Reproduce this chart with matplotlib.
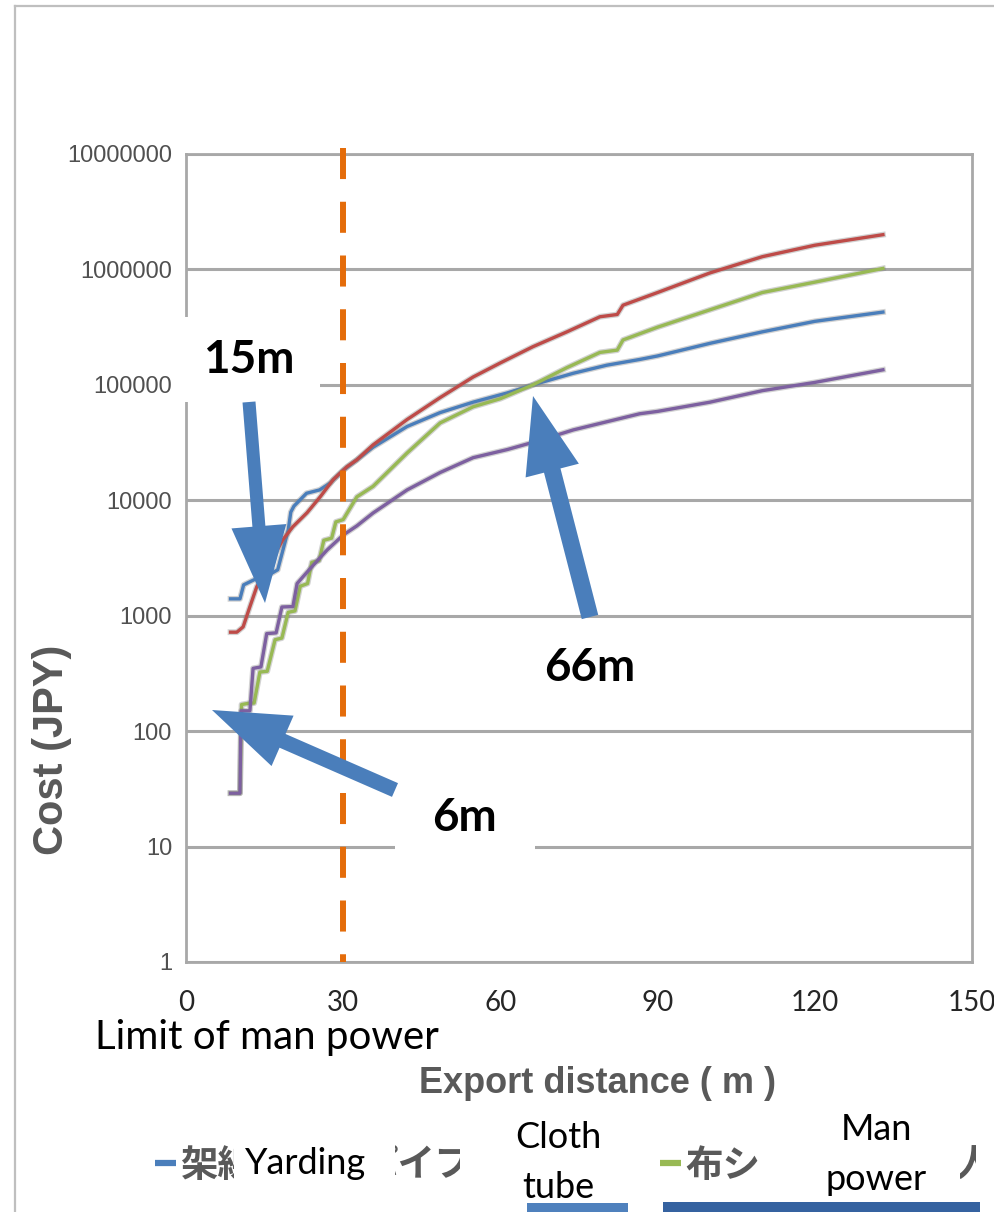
import matplotlib
matplotlib.use('Agg')
import matplotlib.pyplot as plt
import matplotlib.patheffects as pe
from matplotlib.patches import FancyArrow, Rectangle
from matplotlib.transforms import Bbox

# ---- data (distance in m, cost in JPY) ----
dist_yarding = [8.5, 10.3, 11.0, 13.0, 15.0, 17.5, 19.5, 20.0, 20.6, 23.0, 25.5, 27.5, 30.0,
                32.6, 35.7, 42.2, 48.5, 54.8, 61.3, 66.2, 73.9, 80.3, 86.6, 90, 100, 110, 120, 133]
cost_yarding = [1400, 1400, 1850, 2050, 2150, 2500, 5500, 7900, 8900, 11500, 12300, 14100, 18200,
                22400, 28800, 43600, 57500, 70800, 85100, 100000, 126000, 148000, 166000, 178000,
                229000, 288000, 355000, 427000]

dist_pipe = [8.5, 9.7, 10.9, 12.2, 13.5, 15.5, 17.4, 18.5, 20.4, 23.1, 25.6, 28.1, 30.7, 32.6,
             35.7, 42.2, 48.5, 54.8, 60, 66.2, 72.7, 79, 82.3, 83.4, 90, 100, 110, 120, 133]
cost_pipe = [720, 720, 800, 1200, 1780, 2630, 3700, 4570, 5900, 7800, 10700, 15100, 19500, 22400,
             30200, 50100, 77600, 117000, 155000, 214000, 288000, 389000, 407000, 490000,
             631000, 933000, 1290000, 1620000, 2000000]

dist_cloth = [8.5, 10.3, 10.6, 12.2, 13.0, 14.1, 15.5, 17.0, 18.3, 19.5, 20.8, 21.8, 23.2, 24.0,
              25.4, 26.3, 27.8, 28.6, 30.0, 32.6, 35.7, 42.2, 48.5, 54.8, 60, 66.2, 72.7, 79,
              82.3, 83.4, 90, 100, 110, 120, 133]
cost_cloth = [29, 29, 170, 175, 175, 325, 330, 620, 640, 1070, 1100, 1800, 1900, 2900, 3000, 4500,
              4700, 6500, 6800, 10700, 13200, 25700, 46800, 64600, 75900, 100000, 141000, 191000,
              200000, 245000, 316000, 447000, 631000, 776000, 1020000]

dist_man = [8.5, 10.3, 10.5, 12.2, 12.8, 14.3, 15.4, 17.2, 18.3, 20.4, 21.2, 23.5, 26.9, 30.0,
            32.6, 35.7, 42.2, 48.5, 54.8, 61.3, 67.6, 73.9, 80.3, 86.6, 90, 100, 110, 120, 133]
cost_man = [29, 29, 150, 150, 350, 360, 700, 710, 1190, 1200, 1900, 2500, 3700, 5000, 6000, 7760,
            12300, 17400, 23400, 27500, 33100, 40700, 47900, 56200, 58900, 70800, 89100, 105000,
            135000]

limit_dist = 30
xticks = [0, 30, 60, 90, 120, 150]
yticks = [1, 10, 100, 1000, 10000, 100000, 1000000, 10000000]
ylabels = ['1', '10', '100', '1000', '10000', '100000', '1000000', '10000000']
legend_jp = ['架線集材', 'パイプシュート', '布シュート', '人力']
colors = ['#4A7EBB', '#BE4B48', '#98B954', '#7D60A0']

W, H = 995, 1212
fig = plt.figure(figsize=(W / 100, H / 100), dpi=100)
ax = fig.add_axes([186 / W, 1 - 962 / H, (972 - 186) / W, (962 - 154) / H])
ax.set_yscale('log')
ax.set_xlim(0, 150)
ax.set_ylim(1, 1e7)

grid_c = '#A8A8A8'
for s in ax.spines.values():
    s.set_color(grid_c)
    s.set_linewidth(2)
ax.yaxis.grid(True, color=grid_c, lw=2.2)
ax.set_axisbelow(True)
ax.minorticks_off()
ax.tick_params(length=0)

edge = [pe.Stroke(linewidth=4.2, foreground='#808080', alpha=0.35), pe.Normal()]
series = [(dist_yarding, cost_yarding), (dist_pipe, cost_pipe),
          (dist_cloth, cost_cloth), (dist_man, cost_man)]
for (d, c), col in zip(series, colors):
    ax.plot(d, c, color=col, lw=2.4, path_effects=edge, zorder=3)

# limit of man power
ax.plot([limit_dist, limit_dist], [10 ** 7.05, 1], color='#E46C0A', lw=4.3,
        dashes=(5.2, 3.8), clip_on=False, zorder=4)

ax.set_yticks(yticks, labels=ylabels, fontsize=17, color='#505050',
              family=['Liberation Sans Narrow', 'Liberation Sans'])
ax.set_xticks(xticks, labels=[str(v) for v in xticks], fontsize=20, color='#262626',
              family=['Lato', 'DejaVu Sans'])
ax.tick_params(axis='x', pad=20)
ax.tick_params(axis='y', pad=10)

ax.set_ylabel('Cost (JPY)', fontsize=30, fontweight='bold', color='#595959',
              family=['Liberation Sans', 'DejaVu Sans'])
ax.yaxis.label.set(va='center', ha='center')
ax.yaxis.set_label_coords(-0.1705, 0.262)
ax.set_xlabel('Export distance ( m )', fontsize=26, fontweight='bold', color='#595959',
              family=['Liberation Sans Narrow', 'Liberation Sans'])
ax.xaxis.label.set(va='center')
ax.xaxis.set_label_coords(0.523, -0.1498)

# ---- overlay in pixel units for annotations ----
ov = fig.add_axes([0, 0, 1, 1], zorder=10)
ov.set_xlim(0, W)
ov.set_ylim(H, 0)
ov.axis('off')

ov.plot([15, W], [6, 6], color='#BFBFBF', lw=1.6)
ov.plot([15, 15], [6, H], color='#BFBFBF', lw=1.6)

lato = ['Lato', 'DejaVu Sans']
jp = ['Noto Sans CJK JP', 'DejaVu Sans']
blue = '#4A7EBB'


def label_box(x0, y0, x1, y1):
    ov.add_patch(Rectangle((x0, y0), x1 - x0, y1 - y0, fc='white', ec='none', zorder=3))


label_box(180, 317, 320, 402)
ov.text(249, 360, '15m', fontsize=33, fontweight='bold', family=lato,
        ha='center', va='center', zorder=4)
label_box(535, 632, 645, 705)
ov.text(590, 668, '66m', fontsize=33, fontweight='bold', family=lato,
        ha='center', va='center', zorder=4)
label_box(395, 785, 535, 852)
ov.text(464, 818, '6m', fontsize=33, fontweight='bold', family=lato,
        ha='center', va='center', zorder=4)

for (tx, ty), (hx, hy), w in [((249, 402), (265, 603), 13),
                              ((590, 617), (533, 396), 17),
                              ((395, 790), (212, 710), 15)]:
    ov.add_patch(FancyArrow(tx, ty, hx - tx, hy - ty, width=w, head_width=55,
                            head_length=77, length_includes_head=True,
                            color=blue, ec='none', zorder=5))

ov.text(95, 1037, 'Limit of man power', fontsize=29, family=lato,
        ha='left', va='center', zorder=4)

# legend row: Japanese entries, partly hidden under the English labels
leg_x = [155, 336, 660, 930]
visible = [(150, 234), (395, 460), (655, 760), (960, 976)]
for x0, lab, col, (v0, v1) in zip(leg_x, legend_jp, colors, visible):
    ov.plot([x0, x0 + 21], [1163, 1163], color=col, lw=4.5, solid_capstyle='butt',
            path_effects=edge, zorder=2)
    t = ov.text(x0 + 25, 1165, lab, fontsize=27, fontweight='bold', color='#595959',
                family=jp, ha='left', va='center', zorder=2, clip_on=True)
    t.set_clip_path(None)
    t.set_clip_box(Bbox.from_extents(v0, H - 1210, v1, H - 1118))

label_box(234, 1120, 395, 1205)
ov.text(245, 1163, 'Yarding', fontsize=26, family=lato, ha='left', va='center', zorder=4)
label_box(460, 1105, 655, H)
ov.text(558, 1138, 'Cloth', fontsize=26, family=lato, ha='center', va='center', zorder=4)
ov.text(558, 1188, 'tube', fontsize=26, family=lato, ha='center', va='center', zorder=4)
label_box(760, 1105, 958, 1200)
ov.text(876, 1130, 'Man', fontsize=26, family=lato, ha='center', va='center', zorder=4)
ov.text(876, 1180, 'power', fontsize=26, family=lato, ha='center', va='center', zorder=4)

# slide fragments at the bottom edge
ov.add_patch(Rectangle((527, 1203), 101, 12, fc='#4F81BD', ec='none', zorder=5))
ov.add_patch(Rectangle((663, 1202), 317, 12, fc='#3562A0', ec='none', zorder=5))

fig.savefig('out.png', dpi=100, facecolor='white')
